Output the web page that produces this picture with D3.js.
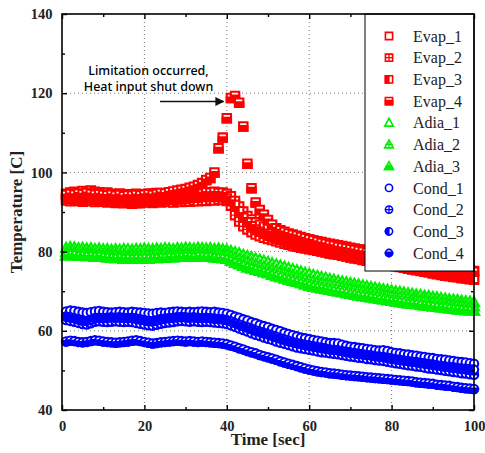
<!DOCTYPE html>
<html>
<head>
<meta charset="utf-8">
<script src="https://cdn.jsdelivr.net/npm/d3@7/dist/d3.min.js"></script>
<style>
  html, body { margin: 0; padding: 0; background: #fff; }
  svg { display: block; }
</style>
</head>
<body>
<svg id="chart" width="485" height="453"></svg>
<script>
// Sampling time [sec], one reading per second
const timeSec = d3.range(1, 101);

const evap1 = [
  94.6, 94.9, 95.1, 95.0, 95.3, 95.2, 95.4, 95.1, 95.0, 94.8,
  94.9, 94.6, 94.5, 94.7, 94.4, 94.5, 94.3, 94.6, 94.4, 94.5,
  94.7, 94.6, 94.8, 94.5, 94.7, 94.9, 94.8, 95.0, 94.8, 95.1,
  95.0, 95.2, 94.9, 95.1, 95.0, 94.9, 95.1, 94.8, 94.9, 94.6,
  94.0, 92.8, 91.4, 90.1, 89.0, 88.1, 87.4, 86.8, 86.3, 85.8,
  85.4, 85.0, 84.7, 84.4, 84.1, 83.8, 83.6, 83.4, 83.2, 83.0,
  82.8, 82.6, 82.4, 82.2, 82.0, 81.8, 81.6, 81.4, 81.2, 81.0,
  80.8, 80.6, 80.4, 80.2, 80.0, 79.8, 79.6, 79.5, 79.3, 79.1,
  78.8, 78.6, 78.4, 78.2, 78.0, 77.8, 77.6, 77.4, 77.2, 77.0,
  76.9, 76.7, 76.5, 76.3, 76.1, 75.9, 75.7, 75.5, 75.3, 75.1
];
const evap2 = [
  92.9, 92.7, 93.0, 92.8, 92.6, 92.9, 92.7, 92.5, 92.8, 92.6,
  92.4, 92.6, 92.3, 92.5, 92.2, 92.4, 92.1, 92.3, 92.2, 92.4,
  92.5, 92.3, 92.6, 92.4, 92.7, 92.5, 92.4, 92.6, 92.5, 92.7,
  92.6, 92.8, 92.7, 92.9, 92.8, 93.0, 92.9, 93.1, 93.0, 92.8,
  91.6, 89.2, 87.6, 86.4, 85.6, 84.9, 84.3, 83.9, 83.5, 83.2,
  82.9, 82.6, 82.3, 82.0, 81.7, 81.4, 81.2, 81.0, 80.8, 80.6,
  80.4, 80.2, 80.0, 79.8, 79.6, 79.4, 79.2, 79.0, 78.8, 78.6,
  78.3, 78.1, 77.9, 77.7, 77.5, 77.3, 77.1, 76.9, 76.7, 76.5,
  76.3, 76.1, 75.9, 75.7, 75.5, 75.3, 75.1, 74.9, 74.7, 74.5,
  74.3, 74.1, 73.9, 73.8, 73.6, 73.5, 73.3, 73.2, 73.0, 72.9
];
const evap3 = [
  93.4, 93.2, 93.5, 93.3, 93.1, 93.4, 93.2, 93.0, 93.3, 93.1,
  92.9, 93.1, 92.8, 93.0, 92.7, 92.9, 92.6, 92.8, 92.7, 92.9,
  93.0, 92.8, 93.1, 92.9, 93.2, 93.0, 93.1, 93.3, 93.2, 93.4,
  93.5, 93.7, 93.6, 93.8, 93.9, 93.8, 94.0, 93.9, 93.7, 93.4,
  92.8, 91.8, 90.2, 88.6, 87.4, 86.4, 85.6, 85.0, 84.5, 84.0,
  83.6, 83.2, 82.9, 82.6, 82.3, 82.0, 81.7, 81.4, 81.1, 80.8,
  80.6, 80.3, 80.1, 79.9, 79.6, 79.4, 79.2, 79.0, 78.8, 78.6,
  78.4, 78.2, 78.0, 77.8, 77.6, 77.4, 77.2, 77.0, 76.8, 76.6,
  76.4, 76.2, 76.0, 75.8, 75.6, 75.5, 75.3, 75.1, 74.9, 74.7,
  74.6, 74.4, 74.2, 74.0, 73.9, 73.7, 73.6, 73.4, 73.2, 73.1
];
const evap4 = [
  94.3, 94.6, 94.4, 94.7, 94.5, 94.8, 94.6, 94.4, 94.5, 94.3,
  94.2, 94.4, 94.1, 94.3, 94.0, 94.2, 94.1, 94.3, 94.2, 94.4,
  94.5, 94.3, 94.6, 94.8, 94.7, 95.0, 95.2, 95.4, 95.6, 95.8,
  96.1, 96.4, 96.8, 97.3, 98.1, 98.6, 100.0, 106.1, 108.8, 113.7,
  118.8, 119.3, 117.6, 111.6, 102.2, 96.0, 92.4, 90.5, 89.3, 88.0,
  86.8, 85.9, 85.4, 85.0, 84.6, 84.3, 84.0, 83.7, 83.4, 83.1,
  82.8, 82.5, 82.2, 82.0, 81.7, 81.5, 81.2, 81.0, 80.8, 80.6,
  80.4, 80.2, 80.0, 79.8, 79.6, 79.4, 79.2, 79.0, 78.8, 78.6,
  78.4, 78.2, 78.0, 77.8, 77.6, 77.5, 77.3, 77.1, 76.9, 76.8,
  76.6, 76.4, 76.2, 76.0, 75.9, 75.7, 75.5, 75.3, 75.1, 74.9
];
const adia1 = [
  80.9, 81.1, 81.0, 80.8, 80.9, 80.7, 80.8, 80.6, 80.7, 80.5,
  80.6, 80.4, 80.5, 80.4, 80.6, 80.5, 80.4, 80.6, 80.5, 80.7,
  80.6, 80.5, 80.7, 80.6, 80.8, 80.7, 80.6, 80.8, 80.7, 80.9,
  80.8, 80.7, 80.9, 80.8, 80.7, 80.8, 80.6, 80.7, 80.5, 80.4,
  80.1, 79.8, 79.5, 79.1, 78.8, 78.5, 78.2, 77.9, 77.6, 77.3,
  77.0, 76.7, 76.4, 76.1, 75.8, 75.5, 75.2, 74.9, 74.6, 74.3,
  74.0, 73.8, 73.5, 73.3, 73.0, 72.8, 72.6, 72.4, 72.2, 72.0,
  71.8, 71.6, 71.4, 71.2, 71.0, 70.8, 70.6, 70.4, 70.3, 70.1,
  69.9, 69.8, 69.6, 69.4, 69.3, 69.1, 69.0, 68.8, 68.7, 68.5,
  68.4, 68.2, 68.1, 67.9, 67.8, 67.7, 67.5, 67.4, 67.3, 67.2
];
const adia2 = [
  79.8, 80.0, 79.9, 79.7, 79.8, 79.6, 79.7, 79.5, 79.6, 79.4,
  79.5, 79.3, 79.4, 79.2, 79.3, 79.2, 79.3, 79.4, 79.3, 79.5,
  79.4, 79.5, 79.6, 79.5, 79.7, 79.6, 79.5, 79.7, 79.6, 79.8,
  79.7, 79.6, 79.8, 79.7, 79.6, 79.7, 79.5, 79.6, 79.4, 79.3,
  79.0, 78.6, 78.2, 77.8, 77.5, 77.1, 76.8, 76.5, 76.2, 75.9,
  75.6, 75.3, 75.0, 74.7, 74.4, 74.1, 73.8, 73.5, 73.2, 72.9,
  72.6, 72.4, 72.2, 72.0, 71.8, 71.6, 71.4, 71.2, 71.0, 70.8,
  70.6, 70.4, 70.2, 70.0, 69.8, 69.6, 69.5, 69.3, 69.1, 68.9,
  68.8, 68.6, 68.5, 68.3, 68.1, 68.0, 67.8, 67.7, 67.5, 67.4,
  67.3, 67.1, 67.0, 66.9, 66.7, 66.6, 66.5, 66.3, 66.2, 66.1
];
const adia3 = [
  79.0, 79.2, 79.1, 78.9, 79.0, 78.8, 78.9, 78.7, 78.8, 78.6,
  78.5, 78.4, 78.3, 78.4, 78.2, 78.3, 78.2, 78.3, 78.2, 78.3,
  78.2, 78.4, 78.3, 78.5, 78.4, 78.6, 78.5, 78.7, 78.6, 78.8,
  78.7, 78.6, 78.8, 78.7, 78.6, 78.7, 78.5, 78.4, 78.3, 78.1,
  77.7, 77.2, 76.8, 76.4, 76.0, 75.7, 75.4, 75.1, 74.8, 74.5,
  74.1, 73.8, 73.5, 73.2, 72.9, 72.6, 72.3, 72.0, 71.7, 71.4,
  71.1, 70.9, 70.7, 70.5, 70.3, 70.1, 69.9, 69.7, 69.5, 69.3,
  69.1, 68.9, 68.7, 68.6, 68.4, 68.2, 68.0, 67.9, 67.7, 67.5,
  67.4, 67.2, 67.1, 66.9, 66.8, 66.7, 66.5, 66.4, 66.3, 66.1,
  66.0, 65.9, 65.8, 65.6, 65.5, 65.4, 65.3, 65.2, 65.1, 65.0
];
const cond1 = [
  64.9, 65.1, 65.0, 64.8, 64.6, 64.5, 64.7, 64.9, 65.0, 64.8,
  64.7, 64.6, 64.7, 64.8, 64.7, 64.6, 64.8, 64.7, 64.6, 64.5,
  64.4, 64.3, 64.5, 64.6, 64.5, 64.7, 64.8, 64.9, 64.8, 64.7,
  64.8, 64.7, 64.8, 64.9, 64.8, 64.7, 64.8, 64.6, 64.5, 64.3,
  64.0, 63.6, 63.3, 62.9, 62.6, 62.2, 61.9, 61.5, 61.2, 60.9,
  60.5, 60.2, 59.9, 59.5, 59.2, 58.9, 58.6, 58.3, 58.1, 57.9,
  57.7, 57.5, 57.3, 57.1, 56.9, 56.9, 56.8, 56.5, 56.2, 56.0,
  55.9, 55.7, 55.6, 55.4, 55.3, 55.1, 55.0, 55.1, 54.9, 54.6,
  54.4, 54.3, 54.1, 54.0, 53.8, 53.7, 53.5, 53.4, 53.2, 53.1,
  52.9, 52.8, 52.7, 52.5, 52.4, 52.2, 52.1, 52.0, 51.8, 51.7
];
const cond2 = [
  62.7, 62.5, 62.3, 62.0, 61.7, 61.6, 61.9, 62.3, 62.4, 62.3,
  62.2, 62.3, 62.4, 62.3, 62.2, 62.3, 62.2, 62.0, 61.8, 61.6,
  61.4, 61.3, 61.5, 61.8, 62.0, 62.1, 62.2, 62.4, 62.5, 62.4,
  62.3, 62.4, 62.3, 62.2, 62.3, 62.2, 62.1, 62.0, 61.9, 61.7,
  61.4, 61.0, 60.6, 60.2, 59.8, 59.4, 59.0, 58.7, 58.3, 58.0,
  57.7, 57.3, 57.0, 56.7, 56.4, 56.1, 55.8, 55.6, 55.4, 55.2,
  55.0, 54.8, 54.6, 54.5, 54.3, 54.2, 54.1, 53.9, 53.7, 53.5,
  53.4, 53.2, 53.1, 52.9, 52.8, 52.6, 52.5, 52.4, 52.2, 52.0,
  51.8, 51.7, 51.5, 51.3, 51.2, 51.0, 50.9, 50.7, 50.5, 50.4,
  50.2, 50.1, 49.9, 49.8, 49.6, 49.5, 49.3, 49.2, 49.0, 48.9
];
const cond3 = [
  63.6, 63.4, 63.2, 62.9, 62.6, 62.5, 62.8, 63.2, 63.3, 63.2,
  63.3, 63.4, 63.3, 63.4, 63.3, 63.2, 63.3, 63.1, 62.9, 62.7,
  62.5, 62.4, 62.6, 62.9, 63.1, 63.2, 63.3, 63.4, 63.5, 63.4,
  63.3, 63.4, 63.3, 63.2, 63.3, 63.2, 63.1, 63.0, 62.9, 62.7,
  62.4, 62.0, 61.6, 61.2, 60.9, 60.5, 60.1, 59.8, 59.5, 59.2,
  58.8, 58.5, 58.1, 57.8, 57.5, 57.2, 56.9, 56.7, 56.5, 56.3,
  56.1, 55.9, 55.7, 55.5, 55.3, 55.2, 55.1, 54.9, 54.7, 54.5,
  54.4, 54.2, 54.1, 53.9, 53.8, 53.6, 53.5, 53.4, 53.2, 53.0,
  52.8, 52.7, 52.5, 52.4, 52.2, 52.1, 51.9, 51.8, 51.6, 51.5,
  51.3, 51.2, 51.0, 50.9, 50.8, 50.6, 50.5, 50.4, 50.3, 50.2
];
const cond4 = [
  57.3, 57.5, 57.4, 57.2, 57.1, 57.2, 57.4, 57.6, 57.5, 57.3,
  57.2, 57.1, 57.0, 57.1, 57.2, 57.3, 57.5, 57.6, 57.4, 57.2,
  57.0, 56.8, 56.9, 57.1, 57.2, 57.3, 57.4, 57.5, 57.4, 57.3,
  57.4, 57.3, 57.2, 57.3, 57.2, 57.1, 57.0, 56.9, 56.8, 56.6,
  56.3, 56.0, 55.6, 55.3, 54.9, 54.6, 54.3, 53.9, 53.6, 53.3,
  53.0, 52.7, 52.3, 52.0, 51.7, 51.4, 51.1, 50.8, 50.5, 50.2,
  50.0, 49.8, 49.6, 49.5, 49.3, 49.2, 49.1, 48.9, 48.8, 48.7,
  48.6, 48.5, 48.4, 48.3, 48.2, 48.1, 48.0, 47.9, 47.8, 47.7,
  47.6, 47.5, 47.4, 47.3, 47.2, 47.0, 46.9, 46.8, 46.7, 46.6,
  46.4, 46.3, 46.2, 46.1, 45.9, 45.8, 45.6, 45.5, 45.4, 45.3
];

const seriesNames = ["Evap_1", "Evap_2", "Evap_3", "Evap_4",
                     "Adia_1", "Adia_2", "Adia_3",
                     "Cond_1", "Cond_2", "Cond_3", "Cond_4"];
const seriesValues = [evap1, evap2, evap3, evap4, adia1, adia2, adia3,
                      cond1, cond2, cond3, cond4];
const xTicks = [0, 20, 40, 60, 80, 100];
const yTicks = [40, 60, 80, 100, 120, 140];
const noteLines = ["Limitation occurred,", "Heat input shut down"];

// Marker look of each series: shape + interior style
const markerShape = ["square", "square", "square", "square",
                     "triangle", "triangle", "triangle",
                     "circle", "circle", "circle", "circle"];
const markerFill = ["open", "plus", "left", "bottom",
                    "open", "plus", "bottom",
                    "open", "plus", "left", "bottom"];
const markerColor = ["#ff0000", "#ff0000", "#ff0000", "#ff0000",
                     "#00ee00", "#00ee00", "#00ee00",
                     "#0000ff", "#0000ff", "#0000ff", "#0000ff"];

const svg = d3.select("#chart");
const plot = { left: 62, right: 474, top: 14, bottom: 410 };

const x = d3.scaleLinear().domain([0, 100]).range([plot.left, plot.right]);
const y = d3.scaleLinear().domain([40, 140]).range([plot.bottom, plot.top]);

const defs = svg.append("defs");
defs.append("clipPath").attr("id", "half-left")
  .append("rect").attr("x", -8).attr("y", -8).attr("width", 8.6).attr("height", 16);
defs.append("clipPath").attr("id", "half-bottom")
  .append("rect").attr("x", -8).attr("y", -1.4).attr("width", 16).attr("height", 10);
defs.append("marker").attr("id", "arrowhead")
  .attr("viewBox", "0 0 10 10").attr("refX", 9).attr("refY", 5)
  .attr("markerWidth", 9).attr("markerHeight", 9).attr("markerUnits", "userSpaceOnUse")
  .attr("orient", "auto")
  .append("path").attr("d", "M0,0 L10,5 L0,10 Z").attr("fill", "#111");

// Dotted grid at the major ticks
const grid = svg.append("g").attr("stroke", "#777").attr("stroke-width", 1)
  .attr("stroke-dasharray", "1,3");
grid.selectAll("line.gx").data(xTicks.slice(1, -1)).join("line")
  .attr("x1", d => x(d)).attr("x2", d => x(d))
  .attr("y1", plot.top).attr("y2", plot.bottom);
grid.selectAll("line.gy").data(yTicks.slice(1, -1)).join("line")
  .attr("x1", plot.left).attr("x2", plot.right)
  .attr("y1", d => y(d)).attr("y2", d => y(d));

// Symbol outline path centred on 0,0
function shapePath(shape, s) {
  if (shape === "square") return `M${-s},${-s}H${s}V${s}H${-s}Z`;
  if (shape === "circle") {
    const p = d3.path(); p.arc(0, 0, s, 0, 2 * Math.PI); p.closePath();
    return p.toString();
  }
  const h = s * 1.1;
  return `M0,${-h * 1.15}L${s * 1.2},${h * 0.85}L${-s * 1.2},${h * 0.85}Z`;
}

function drawMarker(g, shape, fill, color, s, sw) {
  const d = shapePath(shape, s);
  g.append("path").attr("d", d).attr("fill", "#fff")
    .attr("stroke", color).attr("stroke-width", sw);
  if (fill === "left" || fill === "bottom") {
    g.append("path").attr("d", d).attr("fill", color)
      .attr("stroke", color).attr("stroke-width", sw)
      .attr("clip-path", `url(#half-${fill})`);
  } else if (fill === "plus") {
    const top = shape === "triangle" ? -s * 1.27 : -s;
    const bot = shape === "triangle" ? s * 0.94 : s;
    g.append("path")
      .attr("d", `M${-s},0H${s}M0,${top}V${bot}`)
      .attr("stroke", color).attr("stroke-width", 1.3).attr("fill", "none");
  }
}

// Data markers
seriesValues.forEach((vals, si) => {
  const layer = svg.append("g").attr("class", "series");
  layer.selectAll("g.pt").data(vals).join("g")
    .attr("class", "pt")
    .attr("transform", (v, i) => `translate(${x(timeSec[i])},${y(v)})`)
    .each(function () {
      drawMarker(d3.select(this), markerShape[si], markerFill[si], markerColor[si], 4.2, 2.1);
    });
});

// Frame and ticks (inward, on all four sides)
const tickMajor = 5, tickMinor = 3;
const xMinor = d3.range(10, 100, 20);
const yMinor = d3.range(50, 140, 20);

function addAxis(axisFn, scale, values, size, transform, fmt) {
  const a = axisFn(scale).tickValues(values).tickSize(size).tickPadding(8);
  a.tickFormat(fmt ? fmt : () => "");
  const g = svg.append("g").attr("transform", transform).call(a);
  g.select(".domain").remove();
  g.selectAll(".tick line").attr("stroke", "#000").attr("stroke-width", 1.4);
  return g;
}
const fmt = d3.format("d");
const gx = addAxis(d3.axisBottom, x, xTicks, -tickMajor, `translate(0,${plot.bottom})`, fmt);
addAxis(d3.axisBottom, x, xMinor, -tickMinor, `translate(0,${plot.bottom})`);
addAxis(d3.axisTop, x, xTicks, -tickMajor, `translate(0,${plot.top})`);
addAxis(d3.axisTop, x, xMinor, -tickMinor, `translate(0,${plot.top})`);
const gy = addAxis(d3.axisLeft, y, yTicks, -tickMajor, `translate(${plot.left},0)`, fmt);
addAxis(d3.axisLeft, y, yMinor, -tickMinor, `translate(${plot.left},0)`);
addAxis(d3.axisRight, y, yTicks, -tickMajor, `translate(${plot.right},0)`);
addAxis(d3.axisRight, y, yMinor, -tickMinor, `translate(${plot.right},0)`);

[gx, gy].forEach(g => g.selectAll(".tick text")
  .attr("font-family", "'Liberation Serif', 'Times New Roman', serif")
  .attr("font-size", 14.5).attr("font-weight", "bold").attr("fill", "#222"));
gx.selectAll(".tick text").attr("dy", "0.9em");
gy.selectAll(".tick text").attr("dx", "-0.1em");

// Legend box
const legend = { left: 365, top: plot.top, bottom: 271 };
svg.append("rect")
  .attr("x", legend.left).attr("y", legend.top)
  .attr("width", plot.right - legend.left).attr("height", legend.bottom - legend.top)
  .attr("fill", "#fff").attr("stroke", "#000").attr("stroke-width", 1);

const rowY = d3.scalePoint().domain(seriesNames).range([36, 253]);
seriesNames.forEach((name, si) => {
  const g = svg.append("g").attr("transform", `translate(389,${rowY(name)})`);
  drawMarker(g, markerShape[si], markerFill[si], markerColor[si], 3.6, 1.6);
  svg.append("text").attr("x", 413).attr("y", rowY(name))
    .attr("dy", "0.35em")
    .attr("font-family", "'Liberation Serif', 'Times New Roman', serif")
    .attr("font-size", 16).attr("fill", "#222").text(name);
});

// Plot frame on top
svg.append("rect")
  .attr("x", plot.left).attr("y", plot.top)
  .attr("width", plot.right - plot.left).attr("height", plot.bottom - plot.top)
  .attr("fill", "none").attr("stroke", "#000").attr("stroke-width", 1.6);

// Axis titles
svg.append("text").attr("x", (plot.left + plot.right) / 2).attr("y", 445)
  .attr("text-anchor", "middle")
  .attr("font-family", "'Liberation Serif', 'Times New Roman', serif")
  .attr("font-size", 17).attr("font-weight", "bold").attr("fill", "#222")
  .text("Time [sec]");
svg.append("text")
  .attr("transform", `translate(22,${(plot.top + plot.bottom) / 2}) rotate(-90)`)
  .attr("text-anchor", "middle")
  .attr("font-family", "'Liberation Serif', 'Times New Roman', serif")
  .attr("font-size", 17).attr("font-weight", "bold").attr("fill", "#222")
  .text("Temperature [C]");

// Annotation for the dry-out event
svg.append("g").selectAll("text").data(noteLines).join("text")
  .attr("x", x(21)).attr("y", (d, i) => 75 + i * 16)
  .attr("text-anchor", "middle")
  .attr("font-family", "'Noto Sans', 'DejaVu Sans', sans-serif")
  .attr("font-size", 12.5).attr("font-weight", 500).attr("fill", "#000")
  .text(d => d);
svg.append("line")
  .attr("x1", x(23.8)).attr("x2", x(39.2))
  .attr("y1", y(117.9)).attr("y2", y(117.9))
  .attr("stroke", "#111").attr("stroke-width", 1.5)
  .attr("marker-end", "url(#arrowhead)");
</script>
</body>
</html>
